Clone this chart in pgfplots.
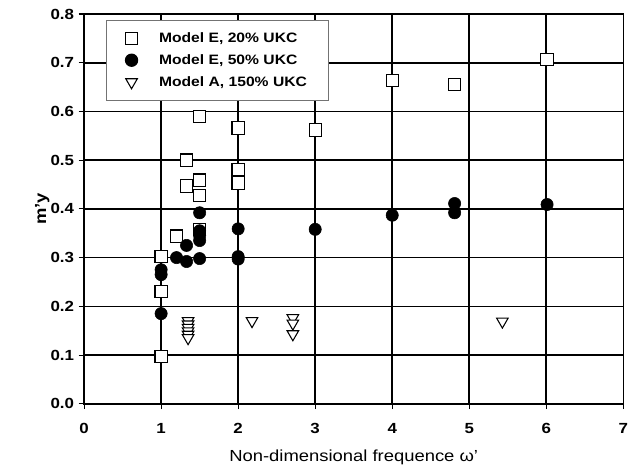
\documentclass[border=0pt]{standalone}
\usepackage{fontspec}
\setmainfont[FakeStretch=1.15]{Liberation Sans}
\usepackage{pgfplots}
\pgfplotsset{compat=1.18}

\begin{document}
\begin{tikzpicture}
\begin{axis}[
  name=ax,
  scale only axis,
  width=404pt, height=292pt,
  xmin=0, xmax=7, ymin=0, ymax=0.8,
  xtick={0,...,7}, ytick={0,0.1,...,0.8},
  tick pos=left, tick align=outside,
  major tick length=4pt,
  grid=major,
  grid style={black, line width=1.2pt},
  axis line style={black, line width=1.2pt},
  tick style={black, line width=0.8pt},
  tick label style={font=\bfseries\fontsize{11}{13}\selectfont},
  /pgf/number format/assume math mode=true,
  yticklabel style={/pgf/number format/fixed, /pgf/number format/precision=1,
    /pgf/number format/fixed zerofill},
  xticklabel style={yshift=-7pt},
  xlabel={Non-dimensional frequence ω'},
  xlabel style={font=\fontsize{12}{14}\selectfont, yshift=-5pt},
  ylabel={\textbf{m'y}},
  ylabel style={font=\fontsize{12}{14}\selectfont, yshift=-6pt},
  legend style={at={(0.041,0.985)}, anchor=north west,
    draw=black!55, line width=0.8pt,
    font=\bfseries\fontsize{10.2}{12}\selectfont,
    inner xsep=14pt, inner ysep=7pt, row sep=3.5pt,
    /tikz/every odd column/.append style={column sep=14pt}},
  legend cell align=left,
  clip=false,
]
\addplot[only marks, mark=square*, mark size=4.6pt,
  mark options={fill=white, draw=black, line width=0.8pt}] coordinates {
  (1,0.302)(1,0.231)(1,0.097)(1.2,0.344)(1.33,0.500)(1.33,0.447)
  (1.5,0.459)(1.5,0.428)(1.5,0.590)(1.5,0.358)(2,0.566)(2,0.481)
  (2,0.453)(3,0.562)(4,0.663)(4.81,0.655)(6.01,0.707)};
\addlegendentry{Model E, 20\% UKC}
\addplot[only marks, mark=*, mark size=4.6pt,
  mark options={fill=black, draw=black}] coordinates {
  (1,0.185)(1,0.265)(1,0.275)(1.2,0.300)(1.33,0.325)(1.33,0.292)
  (1.5,0.298)(1.5,0.392)(1.5,0.335)(1.5,0.345)(1.5,0.355)
  (2,0.359)(2,0.302)(2,0.297)(3,0.358)(4,0.387)(4.81,0.411)
  (4.81,0.392)(6.01,0.409)};
\addlegendentry{Model E, 50\% UKC}
\addplot[only marks, mark=triangle*, mark size=5pt,
  mark options={fill=white, draw=black, line width=0.8pt, rotate=180}] coordinates {
  (1.35,0.170)(1.35,0.163)(1.35,0.156)(1.35,0.149)(1.35,0.142)(1.35,0.135)
  (2.18,0.170)(2.71,0.176)(2.71,0.165)(2.71,0.143)(5.43,0.169)};
\addlegendentry{Model A, 150\% UKC}
\coordinate (sw) at (rel axis cs:0,0);
\coordinate (ne) at (rel axis cs:1,1);
\end{axis}
\pgfresetboundingbox
\path[use as bounding box] ([shift={(-63pt,-50pt)}]sw) rectangle ([shift={(8pt,10.5pt)}]ne);
\end{tikzpicture}
\end{document}
